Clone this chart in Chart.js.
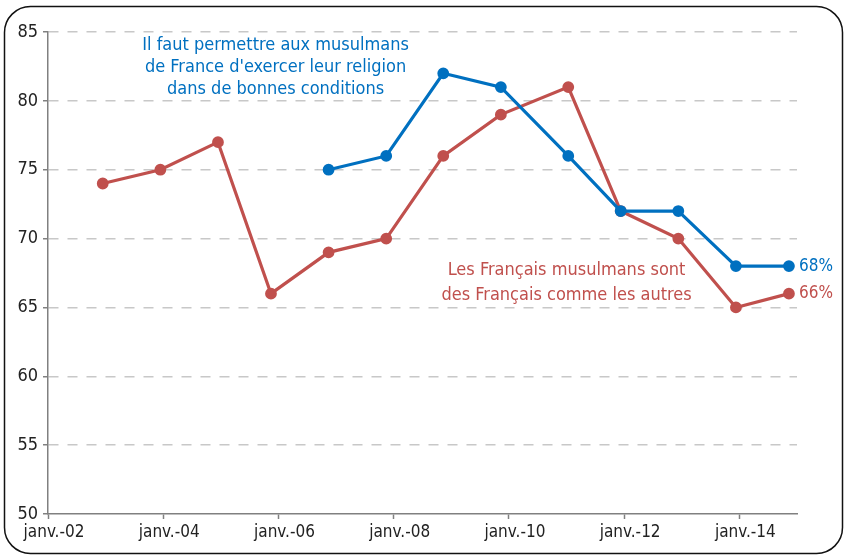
<!DOCTYPE html>
<html>
<head>
<meta charset="utf-8">
<script src="https://cdn.jsdelivr.net/npm/chart.js@4.4.1/dist/chart.umd.min.js"></script>
<style>
  html, body { margin: 0; padding: 0; background: #fff; }
  #wrap { position: relative; width: 844px; height: 557px; }
</style>
</head>
<body>
<div id="wrap"><canvas id="sondage" width="844" height="557"></canvas></div>
<script>
// survey dates (decimal years)
const surveyDates = [2002.95, 2003.95, 2004.95, 2005.87, 2006.87, 2007.87, 2008.86, 2009.86, 2011.03, 2011.94, 2012.94, 2013.94, 2014.86];
const francaisCommeAutres = [74, 75, 77, 66, 69, 70, 76, 79, 81, 72, 70, 65, 66];
const exercerReligion = [null, null, null, null, 75, 76, 82, 81, 76, 72, 72, 68, 68];

const yTicks = [50, 55, 60, 65, 70, 75, 80, 85];
const xTickYears = [2002, 2004, 2006, 2008, 2010, 2012, 2014];

const blueNote = ["Il faut permettre aux musulmans", "de France d'exercer leur religion", "dans de bonnes conditions"];
const redNote = ["Les Français musulmans sont", "des Français comme les autres"];

const BLUE = "#0070C0";
const RED = "#C0504D";
const FONT = "'Liberation Sans Narrow', 'DejaVu Sans Condensed', 'Open Sans', sans-serif";

function toPoints(values) {
  return surveyDates.map((d, i) => ({ x: d, y: values[i] }));
}

const notesPlugin = {
  id: "notes",
  beforeDraw(chart) {
    const ctx = chart.ctx;
    ctx.save();
    ctx.strokeStyle = "#111";
    ctx.lineWidth = 1.5;
    ctx.beginPath();
    ctx.roundRect(4.5, 6.5, 838, 547, 26);
    ctx.stroke();
    ctx.restore();
  },
  afterDatasetsDraw(chart) {
    const ctx = chart.ctx;
    const xs = chart.scales.x, ys = chart.scales.y;
    ctx.save();
    ctx.font = "18px " + FONT;
    ctx.textAlign = "center";
    ctx.textBaseline = "middle";

    ctx.fillStyle = BLUE;
    let bx = xs.getPixelForValue(2005.95);
    let by = ys.getPixelForValue(84);
    blueNote.forEach((t, i) => ctx.fillText(t, bx, by + i * 22));

    ctx.fillStyle = RED;
    let rx = xs.getPixelForValue(2011.0);
    let ry = ys.getPixelForValue(67.7);
    redNote.forEach((t, i) => ctx.fillText(t, rx, ry + i * 25.5));

    // end-of-line values
    ctx.font = "17px " + FONT;
    ctx.textAlign = "left";
    const last = surveyDates.length - 1;
    ctx.fillStyle = BLUE;
    ctx.fillText(exercerReligion[last] + "%", xs.getPixelForValue(surveyDates[last]) + 10, ys.getPixelForValue(exercerReligion[last]));
    ctx.fillStyle = RED;
    ctx.fillText(francaisCommeAutres[last] + "%", xs.getPixelForValue(surveyDates[last]) + 10, ys.getPixelForValue(francaisCommeAutres[last]));
    ctx.restore();
  }
};

new Chart(document.getElementById("sondage").getContext("2d"), {
  type: "line",
  data: {
    datasets: [
      {
        label: "Exercer leur religion",
        data: toPoints(exercerReligion),
        borderColor: BLUE,
        backgroundColor: BLUE,
        borderWidth: 3.2,
        pointRadius: 4.3,
        tension: 0
      },
      {
        label: "Français comme les autres",
        data: toPoints(francaisCommeAutres),
        borderColor: RED,
        backgroundColor: RED,
        borderWidth: 3.2,
        pointRadius: 4.3,
        tension: 0
      }
    ]
  },
  options: {
    responsive: false,
    animation: false,
    devicePixelRatio: 1,
    layout: { padding: { top: 32, right: 47, bottom: 0, left: 0 } },
    plugins: { legend: { display: false }, tooltip: { enabled: false } },
    scales: {
      x: {
        type: "linear",
        min: 2002,
        max: 2015,
        afterBuildTicks: (axis) => { axis.ticks = xTickYears.map(v => ({ value: v })); },
        afterFit: (axis) => { axis.height = 43; },
        ticks: {
          color: "#222",
          font: { family: FONT, size: 17 },
          padding: 3,
          labelOffset: 6,
          maxRotation: 0,
          autoSkip: false,
          callback: (v) => "janv.-" + String(v).slice(2)
        },
        grid: {
          drawOnChartArea: false,
          drawTicks: true,
          tickLength: 5,
          tickColor: "#808080",
          tickWidth: 1.5
        },
        border: { color: "#808080", width: 1.5 }
      },
      y: {
        min: 50,
        max: 85,
        afterBuildTicks: (axis) => { axis.ticks = yTicks.map(v => ({ value: v })); },
        afterFit: (axis) => { axis.width = 48; },
        ticks: {
          color: "#222",
          font: { family: FONT, size: 18 },
          padding: 5
        },
        grid: {
          color: (c) => (c.tick && c.tick.value === 50 ? "rgba(0,0,0,0)" : "#c8c8c8"),
          lineWidth: 1.5,
          drawTicks: true,
          tickLength: 5,
          tickColor: "#808080",
          tickWidth: 1.5,
          tickBorderDash: []
        },
        border: { color: "#808080", width: 1.5, dash: [10, 9] }
      }
    }
  },
  plugins: [notesPlugin]
});
</script>
</body>
</html>
